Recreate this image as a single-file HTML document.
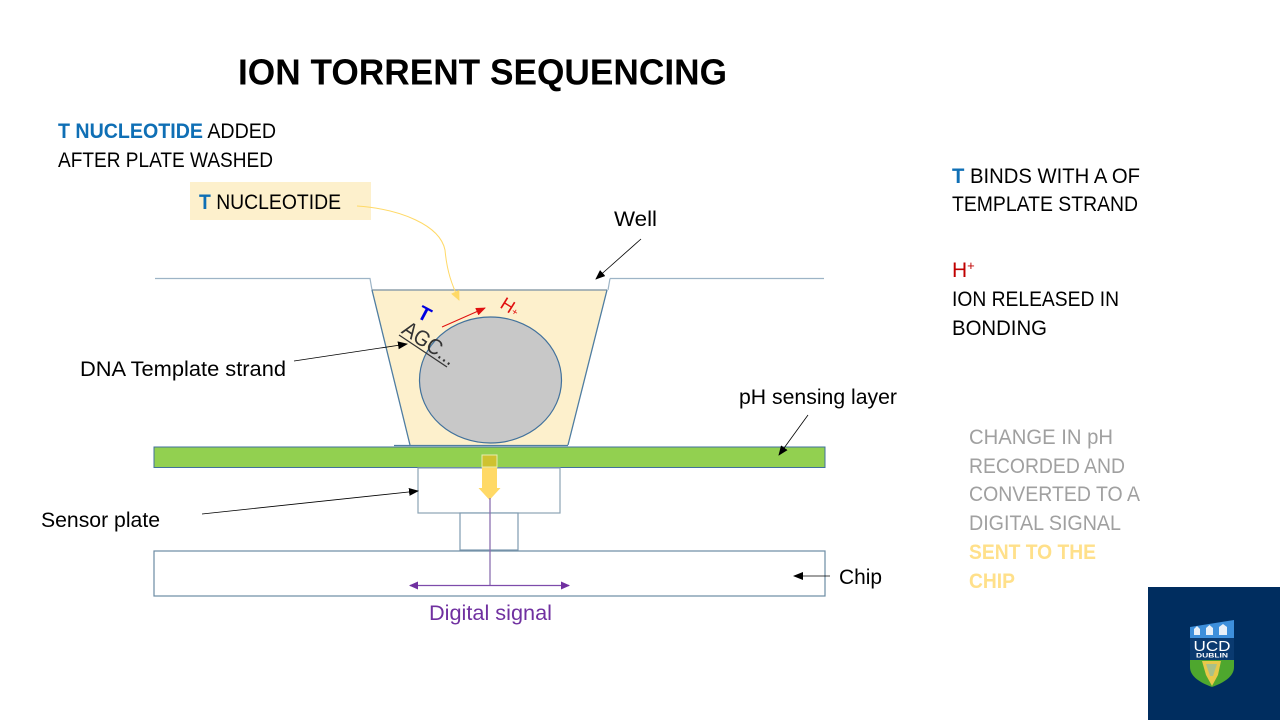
<!DOCTYPE html>
<html><head><meta charset="utf-8">
<style>html,body{margin:0;padding:0;background:#fff}svg{display:block}text{font-family:"Liberation Sans",sans-serif}</style>
</head><body>
<svg width="1280" height="720" viewBox="0 0 1280 720" xmlns="http://www.w3.org/2000/svg">
<defs>
<marker id="k" markerWidth="10" markerHeight="8" refX="9" refY="4" orient="auto" markerUnits="userSpaceOnUse"><path d="M0 0L10 4L0 8z" fill="#000"/></marker>
<marker id="r" markerWidth="10" markerHeight="8" refX="9" refY="4" orient="auto" markerUnits="userSpaceOnUse"><path d="M0 0L10 4L0 8z" fill="#e01010"/></marker>
<marker id="p" markerWidth="9" markerHeight="8" refX="8" refY="4" orient="auto" markerUnits="userSpaceOnUse"><path d="M0 0L9 4L0 8z" fill="#7030a0"/></marker>
<marker id="y" markerWidth="10" markerHeight="9" refX="9" refY="4.500" orient="auto" markerUnits="userSpaceOnUse"><path d="M0 0L10 4.500L0 9z" fill="#ffd966"/></marker>
</defs>
<rect width="1280" height="720" fill="#fff"/>

<text x="238" y="84.500" font-size="36" font-weight="bold" textLength="489" lengthAdjust="spacingAndGlyphs">ION TORRENT SEQUENCING</text>

<text x="58" y="138" font-size="21" textLength="218" lengthAdjust="spacingAndGlyphs"><tspan fill="#0f6fb5" font-weight="bold">T NUCLEOTIDE</tspan> ADDED</text>
<text x="58" y="167" font-size="21" textLength="215" lengthAdjust="spacingAndGlyphs">AFTER PLATE WASHED</text>

<rect x="190" y="182" width="181" height="38" fill="#fdf0cc"/>
<text x="199" y="209" font-size="21" textLength="142" lengthAdjust="spacingAndGlyphs"><tspan fill="#0f6fb5" font-weight="bold">T</tspan> NUCLEOTIDE</text>

<text x="952" y="183" font-size="21" textLength="188" lengthAdjust="spacingAndGlyphs"><tspan fill="#0f6fb5" font-weight="bold">T</tspan> BINDS WITH A OF</text>
<text x="952" y="211" font-size="21" textLength="186" lengthAdjust="spacingAndGlyphs">TEMPLATE STRAND</text>
<text x="952" y="277" font-size="21" fill="#c00000">H<tspan font-size="13" dy="-7">+</tspan></text>
<text x="952" y="306" font-size="21" textLength="167" lengthAdjust="spacingAndGlyphs">ION RELEASED IN</text>
<text x="952" y="335" font-size="21" textLength="95" lengthAdjust="spacingAndGlyphs">BONDING</text>

<g font-size="21" fill="#a0a0a0">
<text x="969" y="444" textLength="144" lengthAdjust="spacingAndGlyphs">CHANGE IN pH</text>
<text x="969" y="473" textLength="156" lengthAdjust="spacingAndGlyphs">RECORDED AND</text>
<text x="969" y="501" textLength="171" lengthAdjust="spacingAndGlyphs">CONVERTED TO A</text>
<text x="969" y="530" textLength="152" lengthAdjust="spacingAndGlyphs">DIGITAL SIGNAL</text>
</g>
<g font-size="21" fill="#ffe08a" font-weight="bold">
<text x="969" y="559" textLength="127" lengthAdjust="spacingAndGlyphs">SENT TO THE</text>
<text x="969" y="588" textLength="46" lengthAdjust="spacingAndGlyphs">CHIP</text>
</g>

<!-- well surface -->
<path d="M155 278.500H370L372 290M610 278.500H824M610 278.500L608 290" fill="none" stroke="#9db4c6" stroke-width="1.200"/>
<path d="M372 290H607L568 445H410z" fill="#fdf0cc"/>
<path d="M372 290H607" stroke="#8fa0ac" stroke-width="1.500" fill="none"/>
<path d="M372 290L410 445M607 290L568 445" stroke="#4f7da1" stroke-width="1.300" fill="none"/>
<path d="M394 445.500H568" stroke="#4f7da1" stroke-width="1.300" fill="none"/>
<ellipse cx="490.500" cy="380" rx="71" ry="63" fill="#c8c8c8" stroke="#41719c" stroke-width="1.200"/>

<!-- strand -->
<text font-size="22" fill="#333" transform="translate(400.500 332.500) rotate(34)" textLength="60" lengthAdjust="spacingAndGlyphs">AGC...</text>
<path d="M399 335L447 367" stroke="#333" stroke-width="1.200"/>
<text font-size="20" font-weight="bold" fill="#0000e0" transform="translate(416 317) rotate(28)">T</text>
<path d="M442 327L485 308" stroke="#e01010" stroke-width="1" marker-end="url(#r)" fill="none"/>
<text font-size="18" fill="#e01010" transform="translate(499 307) rotate(32)" textLength="19" lengthAdjust="spacingAndGlyphs">H<tspan font-size="10" dy="-1">+</tspan></text>

<!-- layers -->
<rect x="154" y="447" width="671" height="20.500" fill="#92d050" stroke="#41719c" stroke-width="1"/>
<rect x="418" y="468" width="142" height="45" fill="#fff" stroke="#8ba3b5" stroke-width="1.200"/>
<rect x="460" y="513" width="58" height="37" fill="#fff" stroke="#7f9bb0" stroke-width="1.200"/>
<rect x="154" y="551" width="671" height="45" fill="#fff" stroke="#6c8ba3" stroke-width="1.200"/>

<!-- yellow arrow -->
<path d="M482 455H497V488H500.500L489.500 500L478.500 488H482z" fill="#ffd966"/>
<path d="M482 455H497V467H482z" fill="#cfc230" stroke="#e6ecb0" stroke-width="1"/>

<!-- digital signal -->
<path d="M490 498V585.500" stroke="#8b6fb0" stroke-width="1.300" fill="none"/>
<path d="M490 585.500H410" stroke="#7d4bab" stroke-width="1.300" fill="none" marker-end="url(#p)"/>
<path d="M490 585.500H569" stroke="#7d4bab" stroke-width="1.300" fill="none" marker-end="url(#p)"/>
<text x="429" y="620" font-size="21" fill="#7030a0" textLength="123" lengthAdjust="spacingAndGlyphs">Digital signal</text>

<!-- callouts -->
<path d="M357 206C400 209 440 225 445 250C447 272 452 285 459 300" stroke="#ffd966" stroke-width="1" fill="none" marker-end="url(#y)"/>
<text x="614" y="226" font-size="21" textLength="43" lengthAdjust="spacingAndGlyphs">Well</text>
<path d="M641 239L596 279" stroke="#000" stroke-width="0.800" fill="none" marker-end="url(#k)"/>
<text x="80" y="376" font-size="21" textLength="206" lengthAdjust="spacingAndGlyphs">DNA Template strand</text>
<path d="M294 361L407 344" stroke="#000" stroke-width="0.800" fill="none" marker-end="url(#k)"/>
<text x="739" y="404" font-size="21" textLength="158" lengthAdjust="spacingAndGlyphs">pH sensing layer</text>
<path d="M808 415L779 455" stroke="#000" stroke-width="0.800" fill="none" marker-end="url(#k)"/>
<text x="41" y="527" font-size="21" textLength="119" lengthAdjust="spacingAndGlyphs">Sensor plate</text>
<path d="M202 514L418 491" stroke="#000" stroke-width="0.800" fill="none" marker-end="url(#k)"/>
<text x="839" y="584" font-size="21" textLength="43" lengthAdjust="spacingAndGlyphs">Chip</text>
<path d="M830 576H794" stroke="#000" stroke-width="0.800" fill="none" marker-end="url(#k)"/>

<!-- logo -->
<rect x="1148" y="587" width="132" height="133" fill="#002d5f"/>
<path d="M1190 627L1234 620V638H1190z" fill="#3d8fdb"/>
<rect x="1190" y="638" width="44" height="22" fill="#0a3a70"/>
<g fill="#e8f0f8">
<path d="M1194 635v-6l3-3 3 3v6z"/><path d="M1206 635v-7l3.500-3 3.500 3v7z"/><path d="M1219 635v-8l4-3 4 3v8z"/>
</g>
<text x="1212" y="651" font-size="15" fill="#fff" text-anchor="middle" textLength="37" lengthAdjust="spacingAndGlyphs">UCD</text>
<text x="1212" y="657.500" font-size="6" font-weight="bold" fill="#fff" text-anchor="middle" textLength="32" lengthAdjust="spacingAndGlyphs">DUBLIN</text>
<path d="M1190 660H1234V667C1234 677 1223 683 1212 687C1201 683 1190 677 1190 667z" fill="#4ea72e"/>
<path d="M1202 661H1221L1218 675L1212 686L1206 675z" fill="#e8c84a"/>
<path d="M1206 664H1217L1213 676H1210z" fill="#a8c08a"/>
</svg>
</body></html>
